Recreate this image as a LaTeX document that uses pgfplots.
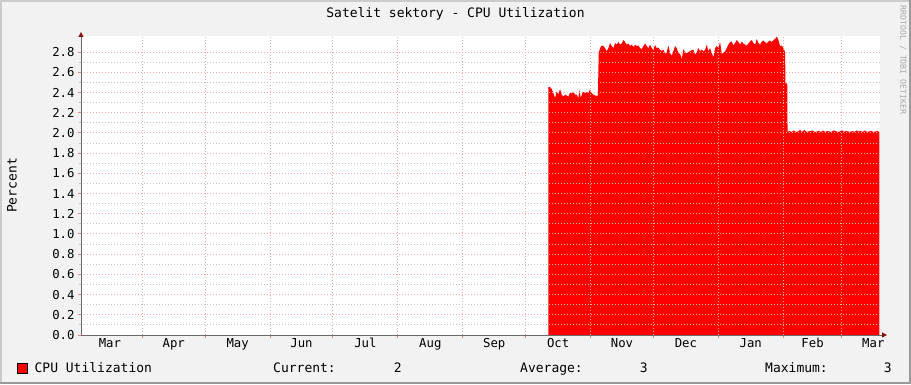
\documentclass[border=0pt]{standalone}
\usepackage{fontspec}
\setmainfont{DejaVu Sans Mono}
\usepackage{pgfplots}
\pgfplotsset{compat=1.18}
\usetikzlibrary{arrows.meta}
\definecolor{bg}{HTML}{F2F2F2}
\definecolor{shadea}{HTML}{CBCBCB}
\definecolor{shadeb}{HTML}{999999}
\definecolor{mgrid}{HTML}{EFA8A8}
\definecolor{mingrid}{HTML}{C4C4C4}
\definecolor{axiscol}{HTML}{6A6A6A}
\definecolor{arrowcol}{HTML}{8A1010}
\definecolor{wm}{HTML}{AAAAAA}
\newcommand\ticksize{\fontsize{12.3bp}{14bp}\selectfont}
\newcommand\legsize{\fontsize{13bp}{15bp}\selectfont}
\begin{document}
\begin{tikzpicture}[x=1bp,y=1bp]
\path[use as bounding box] (0,0) rectangle (911,384);
\fill[bg] (0,0) rectangle (911,384);
\fill[shadea] (0,0) rectangle (2,384);
\fill[shadea] (0,382) rectangle (911,384);
\fill[shadeb] (909,0) rectangle (911,384);
\fill[shadeb] (0,0) rectangle (911,2);
\begin{axis}[
  at={(81bp,49bp)}, anchor=south west,
  scale only axis, width=799bp, height=299bp,
  xmin=-29.3, xmax=352.2, ymin=0, ymax=2.96,
  axis lines=left,
  axis on top,
  axis background/.style={fill=white},
  axis line style={draw=axiscol, line width=1bp},
  x axis line style={-{Triangle[length=5bp,width=5bp,color=arrowcol]}, shorten >=-7bp},
  y axis line style={-{Triangle[length=5bp,width=5bp,color=arrowcol]}, shorten >=-4bp},
  xtick={0,30,61,91,122,153,183,214,244,275,306,334},
  xticklabels={},
  extra x ticks={-15.5,15,45.5,76,106.5,137.5,168,198.5,229,259.5,290.5,320,349},
  extra x tick labels={Mar,Apr,May,Jun,Jul,Aug,Sep,Oct,Nov,Dec,Jan,Feb,Mar},
  extra x tick style={grid=none, major tick length=0pt},
  ytick={0,0.2,...,2.81},
  minor y tick num=1,
  grid=both,
  major grid style={draw=mgrid, line width=1bp, dash pattern=on 1bp off 2bp},
  minor grid style={draw=mingrid, line width=1bp, dash pattern=on 1bp off 2bp},
  tick align=outside,
  major tick length=3bp, minor tick length=2bp,
  major tick style={draw=mgrid!80!red, line width=1bp},
  minor tick style={draw=mingrid, line width=1bp},
  yticklabel style={/pgf/number format/.cd, fixed, fixed zerofill, precision=1, assume math mode=true},
  ticklabel style={font=\ticksize},
  legend style={at={(axis description cs:-0.0801,-0.1104)}, anchor=west, draw=none, fill=none, font=\legsize, inner sep=0pt, nodes={inner sep=2bp}},
  legend image code/.code={\draw[fill=red, draw=black, line width=0.8bp] (0bp,-5bp) rectangle (10bp,5bp); \path (15bp,0bp);},
]
\addplot[fill=red, draw=none] coordinates {
(193.85,2.455)(194.65,2.455)(195.45,2.435)(196.24,2.395)(197.04,2.345)(197.84,2.41)(198.63,2.38)(199.43,2.435)(200.22,2.38)(201.02,2.36)(201.82,2.38)(202.61,2.37)(203.41,2.36)(204.20,2.40)(205.0,2.39)(205.79,2.41)(206.59,2.38)(207.39,2.38)(208.18,2.345)(208.66,2.43)(209.30,2.345)(210.25,2.41)(211.37,2.395)(212.16,2.405)(212.96,2.395)(213.75,2.43)(214.55,2.395)(215.34,2.38)(216.14,2.37)(216.94,2.37)(217.5,2.37)
(217.89,2.79)(218.53,2.84)(219.32,2.865)(220.12,2.86)(220.92,2.84)(221.71,2.81)(222.51,2.84)(223.30,2.89)(224.10,2.86)(224.90,2.84)(225.69,2.89)(226.49,2.875)(227.28,2.90)(228.08,2.875)(228.88,2.885)(229.67,2.92)(230.47,2.90)(231.26,2.875)(232.06,2.885)(232.86,2.86)(233.65,2.875)(234.45,2.85)(235.24,2.875)(236.04,2.86)(236.84,2.865)(237.63,2.84)(238.43,2.83)(239.22,2.86)(240.02,2.885)(240.81,2.86)(241.61,2.84)(242.41,2.875)(243.20,2.84)(244.0,2.825)(244.79,2.87)(245.59,2.84)(246.39,2.845)(247.18,2.825)(247.98,2.81)(248.77,2.825)(249.57,2.785)(250.37,2.80)(251.16,2.865)(251.96,2.79)(252.75,2.765)(253.55,2.81)(254.35,2.86)(255.14,2.84)(255.94,2.79)(256.73,2.785)(257.53,2.73)(258.33,2.83)(259.12,2.80)(259.92,2.785)(260.71,2.80)(261.51,2.81)(262.31,2.82)(263.10,2.825)(263.90,2.775)(264.69,2.80)(265.49,2.84)(266.28,2.81)(267.08,2.825)(267.88,2.81)(268.67,2.82)(269.47,2.875)(270.26,2.81)(271.06,2.84)(271.86,2.79)(272.65,2.75)(273.45,2.84)(274.24,2.86)(275.04,2.84)(275.84,2.90)(276.63,2.785)(277.43,2.79)(278.22,2.81)(279.02,2.84)(279.82,2.875)(280.61,2.90)(281.41,2.905)(282.20,2.865)(283.0,2.89)(283.80,2.92)(284.59,2.90)(285.39,2.875)(286.18,2.905)(286.98,2.885)(287.78,2.875)(288.57,2.865)(289.37,2.885)(290.16,2.905)(290.96,2.92)(291.75,2.89)(292.55,2.875)(293.35,2.93)(294.14,2.89)(294.94,2.875)(295.73,2.905)(296.53,2.915)(297.33,2.90)(298.12,2.885)(298.92,2.905)(299.71,2.915)(300.51,2.90)(301.31,2.92)(302.10,2.93)(302.90,2.955)(303.69,2.92)(304.49,2.86)(305.29,2.865)(306.08,2.84)(306.88,2.80)
(307.05,2.49)(307.9,2.49)
(308.05,2.01)(309,2.02)(310,2.01)(311,2.025)(312,2.01)(313,2.015)(314,2.03)(315,2.01)(316,2.03)(317,2.01)(318,2.015)(319,2.02)(320,2.025)(321,2.01)(322,2.015)(323,2.02)(324,2.01)(325,2.025)(326,2.01)(327,2.02)(328,2.015)(329,2.01)(330,2.025)(331,2.02)(332,2.01)(333,2.015)(334,2.03)(335,2.01)(336,2.02)(337,2.015)(338,2.01)(339,2.02)(340,2.01)(341,2.025)(342,2.015)(343,2.02)(344,2.01)(345,2.025)(346,2.01)(347,2.015)(348,2.02)(349,2.01)(350,2.015)(351,2.02)(351.9,2.01)
} \closedcycle;
\addlegendentry{CPU Utilization}
\end{axis}
\node[font=\legsize] at (455.5,370) {Satelit sektory - CPU Utilization};
\node[font=\legsize, rotate=90] at (12,198.5) {Percent};
\node[font=\fontsize{8.2bp}{9bp}\selectfont, text=wm, rotate=-90] at (903,324) {RRDTOOL / TOBI OETIKER};
\node[font=\legsize, anchor=base west, inner sep=0pt] at (273,12) {Current:};
\node[font=\legsize, anchor=base east, inner sep=0pt] at (402,12) {2};
\node[font=\legsize, anchor=base west, inner sep=0pt] at (520,12) {Average:};
\node[font=\legsize, anchor=base east, inner sep=0pt] at (648,12) {3};
\node[font=\legsize, anchor=base west, inner sep=0pt] at (765,12) {Maximum:};
\node[font=\legsize, anchor=base east, inner sep=0pt] at (892,12) {3};
\end{tikzpicture}
\end{document}
